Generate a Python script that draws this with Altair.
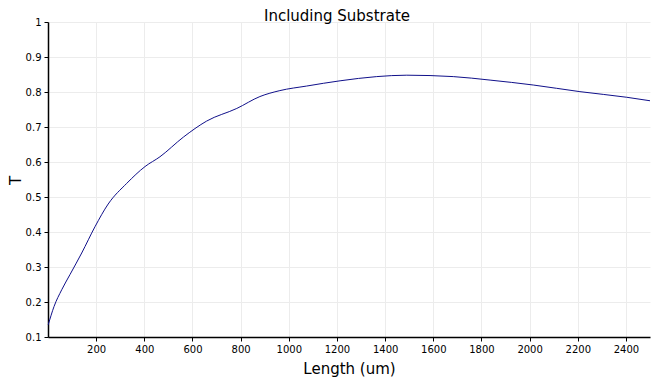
import altair as alt
import pandas as pd

length_um = [1, 25, 57, 91, 140, 195, 250, 327, 403, 465, 562, 659, 784, 880, 963, 1074, 1213, 1365, 1490, 1683, 1836, 2015, 2209, 2403, 2500]
transmission = [0.135, 0.187, 0.235, 0.278, 0.34, 0.415, 0.48, 0.539, 0.587, 0.615, 0.671, 0.717, 0.753, 0.787, 0.804, 0.817, 0.832, 0.844, 0.848, 0.844, 0.834, 0.820, 0.801, 0.785, 0.775]
x_ticks = [200, 400, 600, 800, 1000, 1200, 1400, 1600, 1800, 2000, 2200, 2400]
y_ticks = [0.1, 0.2, 0.3, 0.4, 0.5, 0.6, 0.7, 0.8, 0.9, 1.0]

df = pd.DataFrame({"x": length_um, "y": transmission})

font = "DejaVu Sans"

chart = alt.Chart(df).mark_line(color="#10108a", strokeWidth=1, interpolate="monotone").encode(
    x=alt.X("x:Q", scale=alt.Scale(domain=[0, 2500], nice=False, zero=False),
            axis=alt.Axis(title="Length (um)", values=x_ticks, format="d", tickSize=4, labelPadding=3,
                          titleFontSize=15, titleFontWeight="normal",
                          titleBaseline="alphabetic", titleY=36)),
    y=alt.Y("y:Q", scale=alt.Scale(domain=[0.1, 1.0], nice=False, zero=False),
            axis=alt.Axis(title="T", values=y_ticks, tickSize=4, labelPadding=3,
                          labelExpr="datum.value == 1 ? '1' : format(datum.value, '.1f')",
                          titleFontSize=15, titleFontWeight="normal",
                          titleX=-40, titleY=158, titleBaseline="top", titleAlign="center", titleAngle=-90)),
).properties(
    width=602, height=315,
    title=alt.TitleParams("Including Substrate", fontSize=15, fontWeight=500, font=font,
                          color="black", offset=0, baseline="alphabetic", dx=-12, dy=19),
    autosize=alt.AutoSizeParams(type="none"),
    padding={"left": 40, "top": 14, "right": 13, "bottom": 42},
).configure_axis(
    labelFont=font, titleFont=font, labelFontSize=10, labelColor="black", titleColor="black",
    domainColor="black", domainWidth=1.5, tickColor="black", gridColor="#ececec", gridWidth=1,
).configure_view(stroke=None)

chart.save("out.html", embed_options={"renderer": "svg", "actions": False})
